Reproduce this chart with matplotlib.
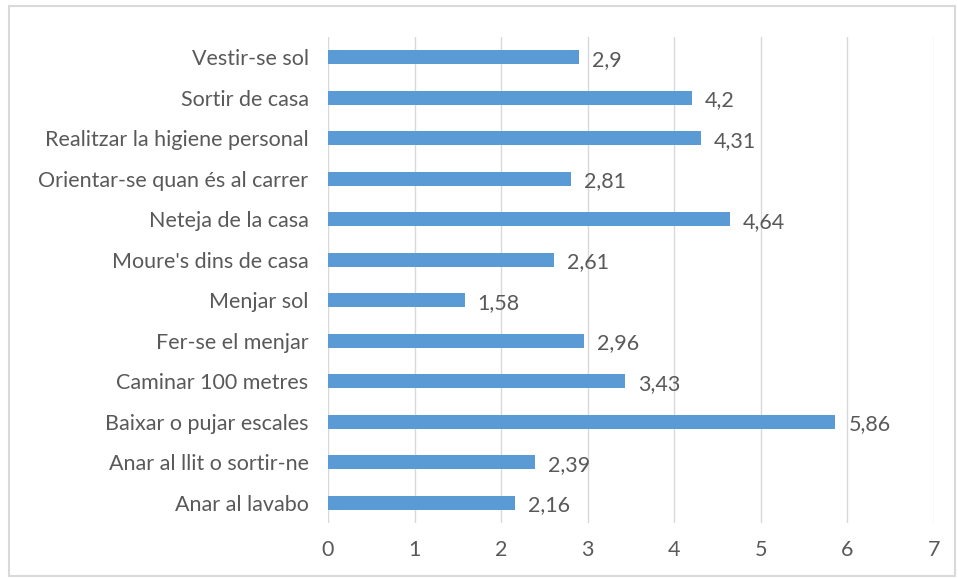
import matplotlib.pyplot as plt
from matplotlib.patches import Rectangle

# activities, top to bottom as in the chart
labels = ['Vestir-se sol', 'Sortir de casa', 'Realitzar la higiene personal',
          'Orientar-se quan és al carrer', 'Neteja de la casa', "Moure's dins de casa",
          'Menjar sol', 'Fer-se el menjar', 'Caminar 100 metres',
          'Baixar o pujar escales', 'Anar al llit o sortir-ne', 'Anar al lavabo']
values = [2.9, 4.2, 4.31, 2.81, 4.64, 2.61, 1.58, 2.96, 3.43, 5.86, 2.39, 2.16]
xticks = [0, 1, 2, 3, 4, 5, 6, 7]

plt.rcParams['font.family'] = ['Lato', 'DejaVu Sans']
grey = '#595959'
fs = 15.5

fig = plt.figure(figsize=(9.58, 5.78), dpi=100)
ax = fig.add_axes([0.3424, 0.0952, 0.6326, 0.8408])

pos = list(range(len(labels)))
ax.barh(pos, values, height=0.35, color='#5B9BD5', zorder=3)
for p, v in zip(pos, values):
    ax.text(v + 0.15, p + 0.06, ('%g' % v).replace('.', ','), va='center', ha='left',
            fontsize=fs, color=grey)

ax.set_ylim(len(labels) - 0.5, -0.5)
ax.set_xlim(0, 7)
ax.set_yticks(pos)
ax.set_yticklabels(labels, fontsize=fs, color=grey)
ax.set_xticks(xticks)
ax.set_xticklabels([str(t) for t in xticks], fontsize=fs, color=grey)
ax.tick_params(length=0, pad=12)
ax.tick_params(axis='y', pad=14)
ax.grid(axis='x', color='#d9d9d9', linewidth=1, zorder=0)
for s in ax.spines.values():
    s.set_visible(False)

# light frame around the whole chart
fig.patches.append(Rectangle((0.009, 0.004), 0.988, 0.985, transform=fig.transFigure,
                             fill=False, edgecolor='#d9d9d9', linewidth=1.5))

fig.savefig('out.png', dpi=100)
